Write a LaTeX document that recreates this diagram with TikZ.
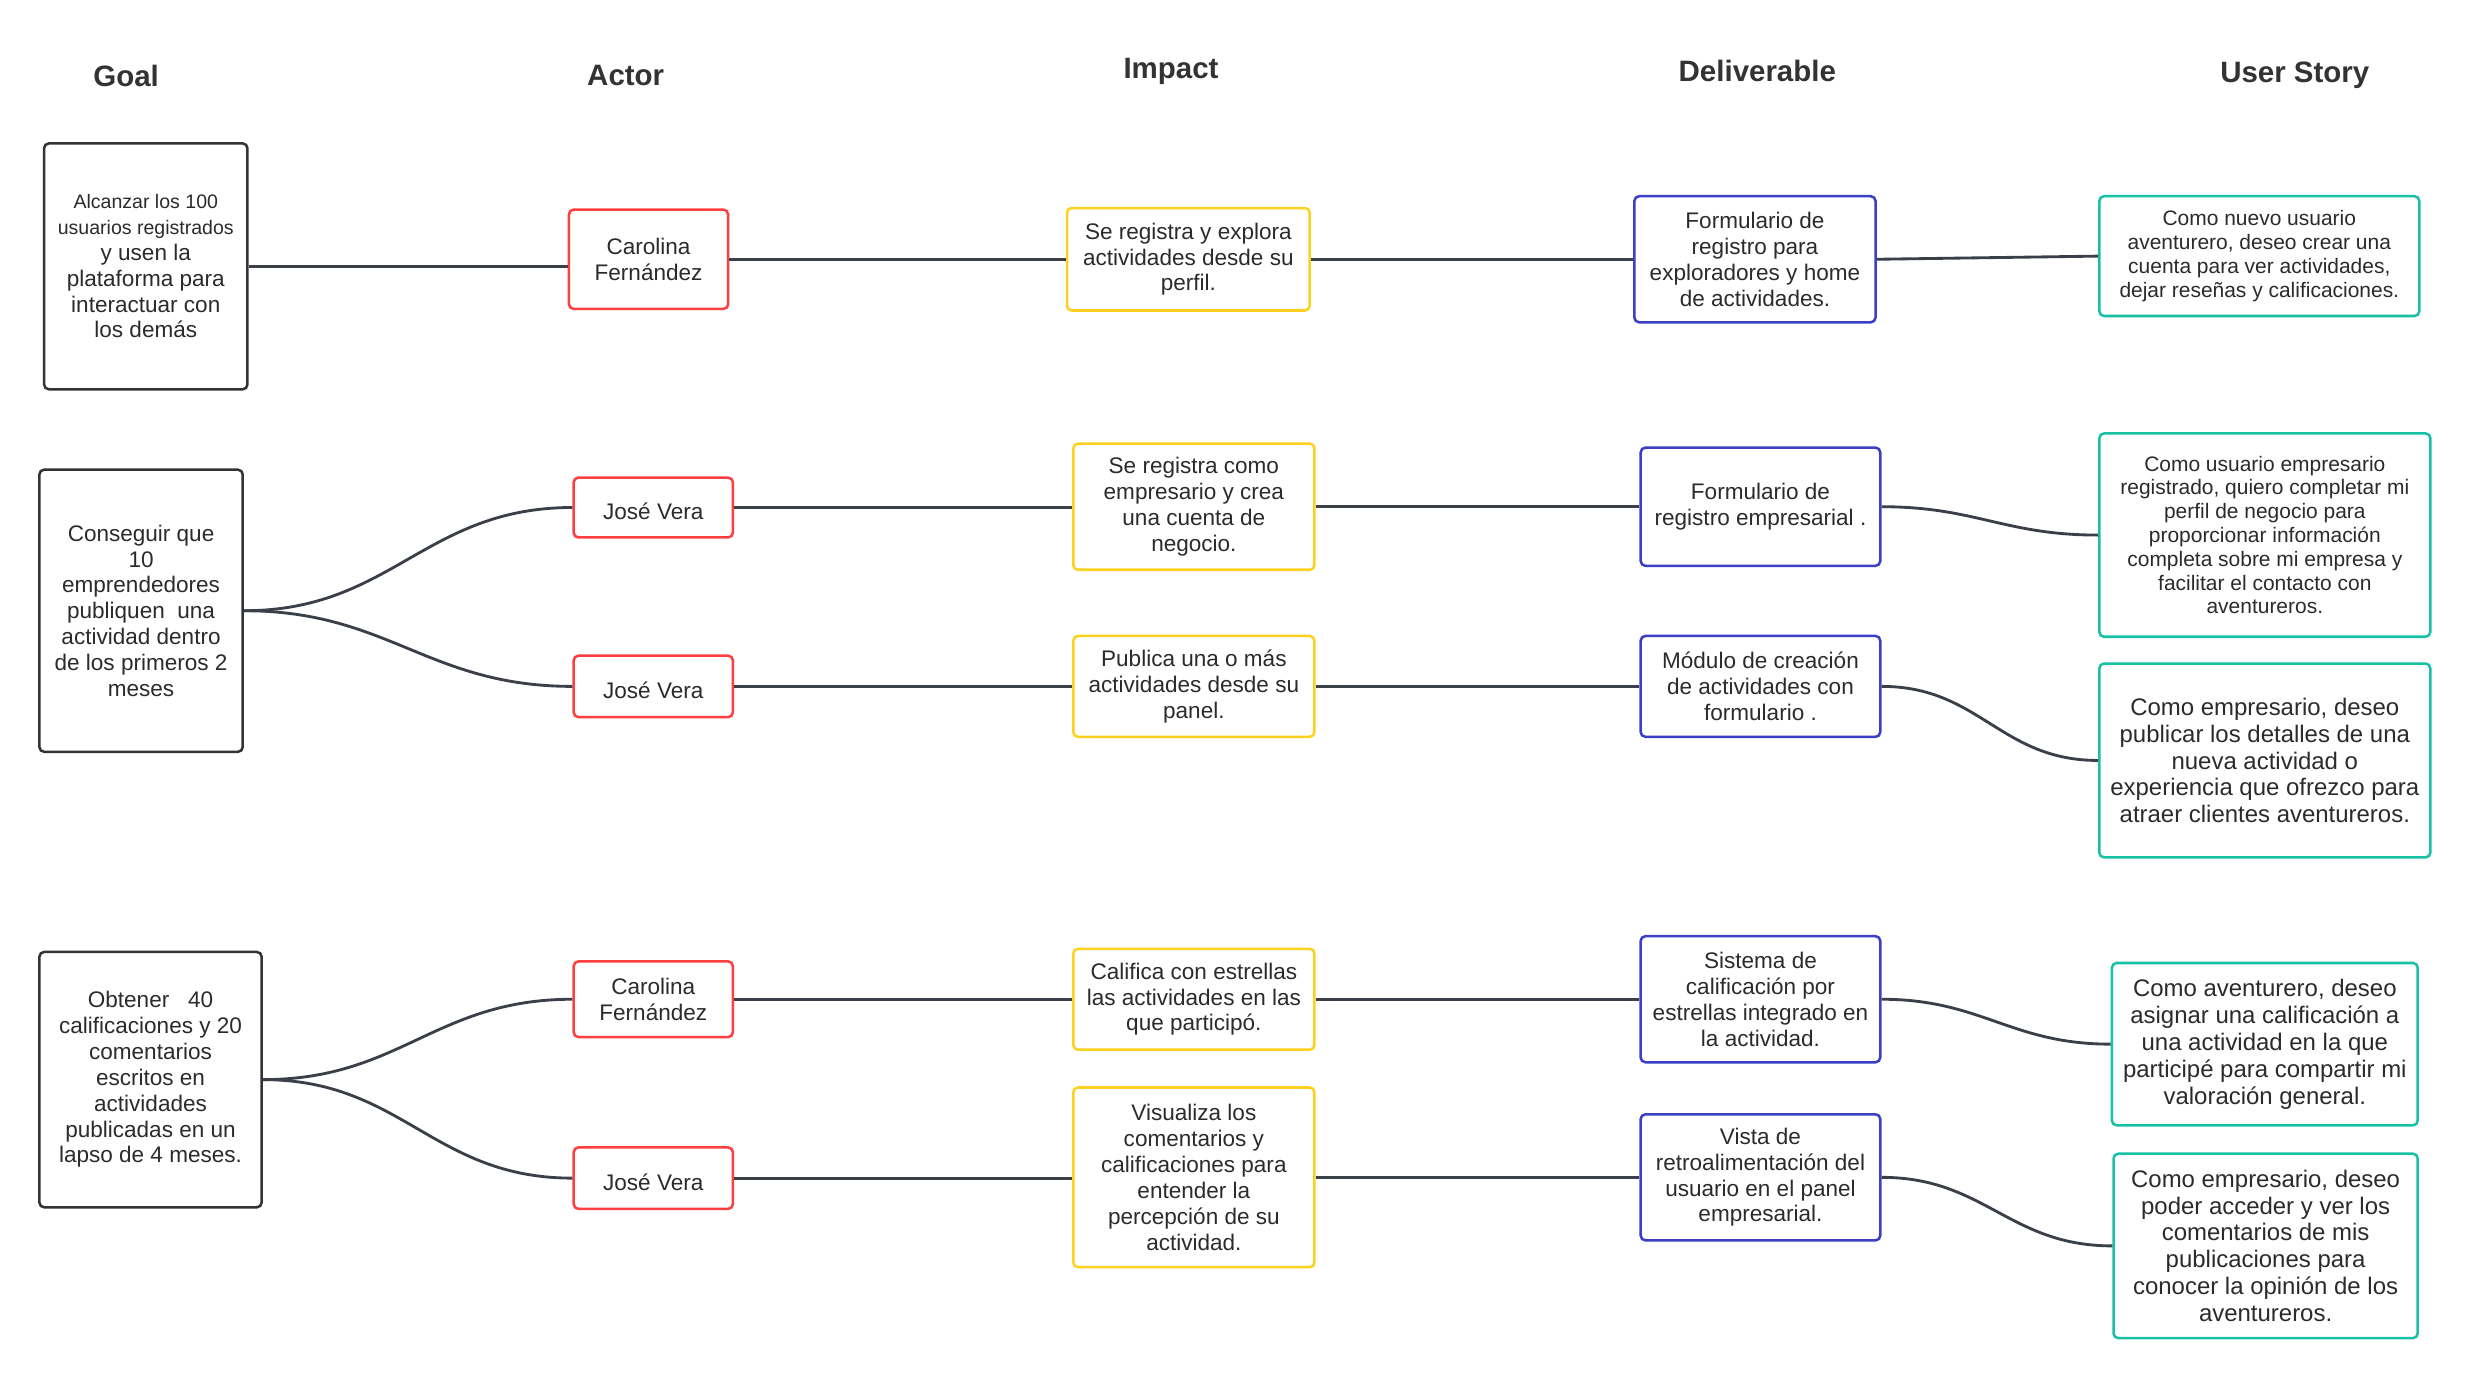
\documentclass[tikz,border=0pt]{standalone}
\usepackage{fontspec}
\setmainfont{Liberation Sans}
\definecolor{txtc}{HTML}{2B2B2B}
\definecolor{hdrc}{HTML}{333333}
\definecolor{goalc}{HTML}{333333}
\definecolor{redc}{HTML}{FF3F3F}
\definecolor{yelc}{HTML}{FDD11E}
\definecolor{bluc}{HTML}{3A3FC6}
\definecolor{tealc}{HTML}{16C1A6}
\definecolor{linkc}{HTML}{3A3F4A}
\newcommand\fbody{\fontsize{14.3}{16.4}\selectfont}
\newcommand\fssm{\fontsize{13.3}{15.1}\selectfont}
\newcommand\fslg{\fontsize{15.2}{17.1}\selectfont}
\newcommand\fgsm{\fontsize{12.4}{15}\selectfont}
\begin{document}
\begin{tikzpicture}[x=1pt,y=-1pt,
  box/.style={draw, rounded corners=3pt, line width=1.6pt, fill=white, align=center,
    inner sep=0pt, text=txtc, font=\fbody, execute at begin node={\rule{0pt}{1.08em}}},
  goalbox/.style={box, draw=goalc},
  actorbox/.style={box, draw=redc},
  impactbox/.style={box, draw=yelc},
  delivbox/.style={box, draw=bluc},
  storybox/.style={box, draw=tealc},
  hdr/.style={font=\bfseries\fontsize{18.7}{22}\selectfont, text=hdrc, inner sep=0pt},
  link/.style={draw=linkc, line width=1.8pt},
  curve/.style={link, out=0, in=180, looseness=1.1}]
\fill[white] (0,0) rectangle (1571,876);
\useasboundingbox (0,0) rectangle (1571,876);

% headers
\node[hdr] (hgoal) at (80,48) {Goal};
\node[hdr] (hactor) at (397,48) {Actor};
\node[hdr] (himpact) at (743,45) {Impact};
\node[hdr] (hdeliv) at (1115,45) {Deliverable};
\node[hdr] (hstory) at (1456,48) {User Story};

% row 1
\node[goalbox, minimum width=129pt, minimum height=156pt] (g1) at (92.5,169)
  {\fgsm Alcanzar los 100\\\fgsm usuarios registrados\\\fbody y usen la\\\fbody plataforma para\\\fbody interactuar con\\\fbody los demás};
\node[actorbox, minimum width=101pt, minimum height=63pt] (a1) at (411.5,164.5)
  {Carolina\\Fernández};
\node[impactbox, minimum width=154pt, minimum height=65pt] (i1) at (754,164.5)
  {Se registra y explora\\actividades desde su\\perfil.};
\node[delivbox, minimum width=153pt, minimum height=80pt] (d1) at (1113.5,164.5)
  {Formulario de\\registro para\\exploradores y home\\de actividades.};
\node[storybox, minimum width=203pt, minimum height=76pt, font=\fssm] (s1) at (1433.5,162.5)
  {Como nuevo usuario\\aventurero, deseo crear una\\cuenta para ver actividades,\\dejar reseñas y calificaciones.};

% row 2
\node[goalbox, minimum width=129pt, minimum height=179pt] (g2) at (89.5,387.5)
  {Conseguir que\\10\\emprendedores\\publiquen\ \ una\\actividad dentro\\de los primeros 2\\meses};
\node[actorbox, minimum width=101pt, minimum height=38pt] (a2a) at (414.5,322) {José Vera};
\node[actorbox, minimum width=101pt, minimum height=39pt] (a2b) at (414.5,435.5) {José Vera};
\node[impactbox, minimum width=153pt, minimum height=80pt] (i2a) at (757.5,321.5)
  {Se registra como\\empresario y crea\\una cuenta de\\negocio.};
\node[impactbox, minimum width=153pt, minimum height=64pt] (i2b) at (757.5,435.5)
  {Publica una o más\\actividades desde su\\panel.};
\node[delivbox, minimum width=152pt, minimum height=75pt] (d2a) at (1117,321.5)
  {Formulario de\\registro empresarial .};
\node[delivbox, minimum width=152pt, minimum height=64pt] (d2b) at (1117,435.5)
  {Módulo de creación\\de actividades con\\formulario .};
\node[storybox, minimum width=210pt, minimum height=129pt, font=\fssm] (s2a) at (1437,339.5)
  {Como usuario empresario\\registrado, quiero completar mi\\perfil de negocio para\\proporcionar información\\completa sobre mi empresa y\\facilitar el contacto con\\aventureros.};
\node[storybox, minimum width=210pt, minimum height=123pt, font=\fslg] (s2b) at (1437,482.5)
  {Como empresario, deseo\\publicar los detalles de una\\nueva actividad o\\experiencia que ofrezco para\\atraer clientes aventureros.};

% row 3
\node[goalbox, minimum width=141pt, minimum height=162pt] (g3) at (95.5,685)
  {Obtener\ \ \ 40\\calificaciones y 20\\comentarios\\escritos en\\actividades\\publicadas en un\\lapso de 4 meses.};
\node[actorbox, minimum width=101pt, minimum height=48pt] (a3a) at (414.5,634) {Carolina\\Fernández};
\node[actorbox, minimum width=101pt, minimum height=39pt] (a3b) at (414.5,747.5) {José Vera};
\node[impactbox, minimum width=153pt, minimum height=64pt] (i3a) at (757.5,634)
  {Califica con estrellas\\las actividades en las\\que participó.};
\node[impactbox, minimum width=153pt, minimum height=114pt] (i3b) at (757.5,747)
  {Visualiza los\\comentarios y\\calificaciones para\\entender la\\percepción de su\\actividad.};
\node[delivbox, minimum width=152pt, minimum height=80pt] (d3a) at (1117,634)
  {Sistema de\\calificación por\\estrellas integrado en\\la actividad.};
\node[delivbox, minimum width=152pt, minimum height=80pt] (d3b) at (1117,747)
  {Vista de\\retroalimentación del\\usuario en el panel\\empresarial.};
\node[storybox, minimum width=194pt, minimum height=103pt, font=\fslg] (s3a) at (1437,662.5)
  {Como aventurero, deseo\\asignar una calificación a\\una actividad en la que\\participé para compartir mi\\valoración general.};
\node[storybox, minimum width=193pt, minimum height=117pt, font=\fslg] (s3b) at (1437.5,790.5)
  {Como empresario, deseo\\poder acceder y ver los\\comentarios de mis\\publicaciones para\\conocer la opinión de los\\aventureros.};

% connectors row 1
\draw[link] (g1.east) -- (g1.east -| a1.west);
\draw[link] (a1.east) -- (a1.east -| i1.west);
\draw[link] (i1.east) -- (i1.east -| d1.west);
\draw[link] (d1.east) -- (s1.west);

% connectors row 2
\draw[curve] (g2.east) to (a2a.west);
\draw[curve] (g2.east) to (a2b.west);
\draw[link] (a2a.east) -- (a2a.east -| i2a.west);
\draw[link] (a2b.east) -- (a2b.east -| i2b.west);
\draw[link] (i2a.east) -- (i2a.east -| d2a.west);
\draw[link] (i2b.east) -- (i2b.east -| d2b.west);
\draw[curve] (d2a.east) to (s2a.west);
\draw[curve] (d2b.east) to (s2b.west);

% connectors row 3
\draw[curve] (g3.east) to (a3a.west);
\draw[curve] (g3.east) to (a3b.west);
\draw[link] (a3a.east) -- (a3a.east -| i3a.west);
\draw[link] (a3b.east) -- (a3b.east -| i3b.west);
\draw[link] (i3a.east) -- (i3a.east -| d3a.west);
\draw[link] (i3b.east) -- (i3b.east -| d3b.west);
\draw[curve] (d3a.east) to (s3a.west);
\draw[curve] (d3b.east) to (s3b.west);
\end{tikzpicture}
\end{document}
